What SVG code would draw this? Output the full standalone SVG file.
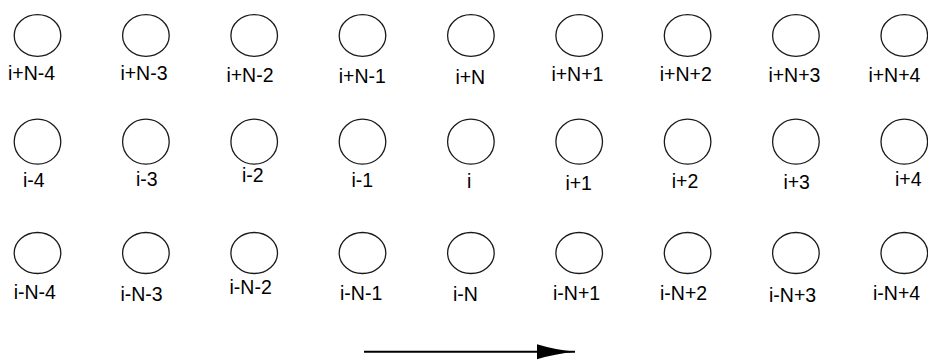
<svg xmlns="http://www.w3.org/2000/svg" width="928" height="361" viewBox="0 0 928 361">
<style>
.n{fill:none;stroke:#1a1a1a;stroke-width:1.3}
.t{font-family:"Liberation Sans",Arial,sans-serif;font-size:19.5px;fill:#000}
.c{stroke:#000;stroke-width:2;fill:none}
</style>
<defs>
<marker id="ah" markerUnits="userSpaceOnUse" markerWidth="40" markerHeight="18" refX="38" refY="8" orient="auto" viewBox="0 0 40 16">
<path d="M0,0.5 Q18,6 38,8 Q18,10 0,15.5 Z" fill="#000"/>
</marker>
</defs>
<g id="nodes-top">
<g id="n-iN-4"><ellipse class="n" cx="37.5" cy="35.5" rx="23.3" ry="20.8"/><text class="t" x="8" y="80">i+N-4</text></g>
<g id="n-iN-3"><ellipse class="n" cx="145.9" cy="35.5" rx="23.3" ry="20.8"/><text class="t" x="120.4" y="80">i+N-3</text></g>
<g id="n-iN-2"><ellipse class="n" cx="254.2" cy="35.5" rx="23.3" ry="20.8"/><text class="t" x="226.4" y="81.7">i+N-2</text></g>
<g id="n-iN-1"><ellipse class="n" cx="362.5" cy="35.5" rx="23.3" ry="20.8"/><text class="t" x="338.7" y="83.3">i+N-1</text></g>
<g id="n-iN"><ellipse class="n" cx="470.9" cy="35.5" rx="23.3" ry="20.8"/><text class="t" x="455.4" y="84.3">i+N</text></g>
<g id="n-iN+1"><ellipse class="n" cx="579.2" cy="35.5" rx="23.3" ry="20.8"/><text class="t" x="551.4" y="81">i+N+1</text></g>
<g id="n-iN+2"><ellipse class="n" cx="687.6" cy="35.5" rx="23.3" ry="20.8"/><text class="t" x="659.7" y="81">i+N+2</text></g>
<g id="n-iN+3"><ellipse class="n" cx="795.9" cy="35.5" rx="23.3" ry="20.8"/><text class="t" x="768.4" y="82.3">i+N+3</text></g>
<g id="n-iN+4"><ellipse class="n" cx="904.3" cy="35.5" rx="23.3" ry="20.8"/><text class="t" x="868.4" y="82.3">i+N+4</text></g>
</g>
<g id="nodes-mid">
<g id="n-i-4"><ellipse class="n" cx="37.5" cy="141.7" rx="23.3" ry="22.5"/><text class="t" x="23" y="186.7">i-4</text></g>
<g id="n-i-3"><ellipse class="n" cx="145.9" cy="141.7" rx="23.3" ry="22.5"/><text class="t" x="136" y="185.7">i-3</text></g>
<g id="n-i-2"><ellipse class="n" cx="254.2" cy="141.7" rx="23.3" ry="22.5"/><text class="t" x="242" y="181.7">i-2</text></g>
<g id="n-i-1"><ellipse class="n" cx="362.5" cy="141.7" rx="23.3" ry="22.5"/><text class="t" x="351.4" y="186.7">i-1</text></g>
<g id="n-i"><ellipse class="n" cx="470.9" cy="141.7" rx="23.3" ry="22.5"/><text class="t" x="467" y="188.3">i</text></g>
<g id="n-i+1"><ellipse class="n" cx="579.2" cy="141.7" rx="23.3" ry="22.5"/><text class="t" x="565.4" y="190">i+1</text></g>
<g id="n-i+2"><ellipse class="n" cx="687.6" cy="141.7" rx="23.3" ry="22.5"/><text class="t" x="671.7" y="187.7">i+2</text></g>
<g id="n-i+3"><ellipse class="n" cx="795.9" cy="141.7" rx="23.3" ry="22.5"/><text class="t" x="783.4" y="189">i+3</text></g>
<g id="n-i+4"><ellipse class="n" cx="904.3" cy="141.7" rx="23.3" ry="22.5"/><text class="t" x="895" y="185.7">i+4</text></g>
</g>
<g id="nodes-bot">
<g id="n-i-N-4"><ellipse class="n" cx="37.5" cy="253" rx="23.3" ry="20.5"/><text class="t" x="13.7" y="299.3">i-N-4</text></g>
<g id="n-i-N-3"><ellipse class="n" cx="145.9" cy="253" rx="23.3" ry="20.5"/><text class="t" x="120.4" y="300.7">i-N-3</text></g>
<g id="n-i-N-2"><ellipse class="n" cx="254.2" cy="253" rx="23.3" ry="20.5"/><text class="t" x="229.5" y="294">i-N-2</text></g>
<g id="n-i-N-1"><ellipse class="n" cx="362.5" cy="253" rx="23.3" ry="20.5"/><text class="t" x="340" y="300">i-N-1</text></g>
<g id="n-i-N"><ellipse class="n" cx="470.9" cy="253" rx="23.3" ry="20.5"/><text class="t" x="453" y="301">i-N</text></g>
<g id="n-i-N+1"><ellipse class="n" cx="579.2" cy="253" rx="23.3" ry="20.5"/><text class="t" x="553" y="300">i-N+1</text></g>
<g id="n-i-N+2"><ellipse class="n" cx="687.6" cy="253" rx="23.3" ry="20.5"/><text class="t" x="660" y="300">i-N+2</text></g>
<g id="n-i-N+3"><ellipse class="n" cx="795.9" cy="253" rx="23.3" ry="20.5"/><text class="t" x="769" y="302">i-N+3</text></g>
<g id="n-i-N+4"><ellipse class="n" cx="904.3" cy="253" rx="23.3" ry="20.5"/><text class="t" x="873" y="300">i-N+4</text></g>
</g>
<g id="connectors">
<line class="c" x1="364" y1="351.7" x2="575" y2="351.7" marker-end="url(#ah)"/>
</g>
</svg>
